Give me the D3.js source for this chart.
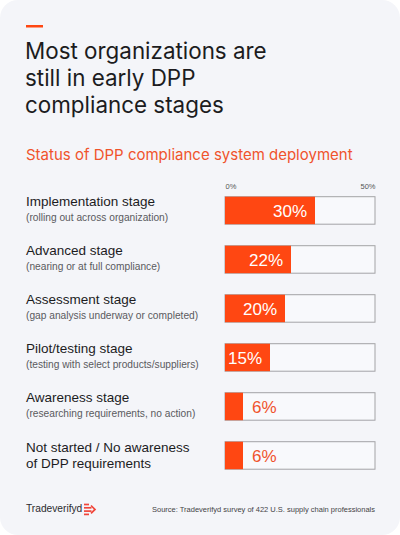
<!DOCTYPE html>
<html>
<head>
<meta charset="utf-8">
<script src="https://cdn.jsdelivr.net/npm/d3@7"></script>
<style>
  html, body { margin: 0; padding: 0; background: #ffffff; }
  svg { display: block; }
  text { font-family: "Liberation Sans", Arial, sans-serif; }
  .title, .subtitle { font-family: Inter, "Noto Sans", sans-serif; }
</style>
</head>
<body>
<svg id="chart" width="400" height="535"></svg>
<script>
const titleLines = ["Most organizations are", "still in early DPP", "compliance stages"];
const subtitle = "Status of DPP compliance system deployment";
const categories = [
  "Implementation stage",
  "Advanced stage",
  "Assessment stage",
  "Pilot/testing stage",
  "Awareness stage",
  "Not started / No awareness of DPP requirements"
];
const mainLabels = [
  ["Implementation stage"],
  ["Advanced stage"],
  ["Assessment stage"],
  ["Pilot/testing stage"],
  ["Awareness stage"],
  ["Not started / No awareness", "of DPP requirements"]
];
const subLabels = [
  "(rolling out across organization)",
  "(nearing or at full compliance)",
  "(gap analysis underway or completed)",
  "(testing with select products/suppliers)",
  "(researching requirements, no action)",
  ""
];
const values = [30, 22, 20, 15, 6, 6];
const tickValues = [0, 50];
const brand = "Tradeverifyd";
const source = "Source: Tradeverifyd survey of 422 U.S. supply chain professionals";

const ORANGE = "#ff4712";
const svg = d3.select("#chart");

// card background
svg.append("rect").attr("x", 0).attr("y", 0).attr("width", 400).attr("height", 535)
  .attr("rx", 18).attr("fill", "#f4f5f9");

// accent dash
svg.append("rect").attr("x", 26).attr("y", 25).attr("width", 17).attr("height", 2.5).attr("fill", ORANGE);

// title
svg.append("g").selectAll("text").data(titleLines).join("text")
  .attr("class", "title")
  .attr("x", 25).attr("y", (d, i) => 59 + i * 27)
  .attr("font-size", 22.4).attr("fill", "#1c1c1e").attr("font-weight", 400)
  .text(d => d);

// subtitle
svg.append("text").attr("class", "subtitle").attr("x", 26).attr("y", 160)
  .attr("font-size", 15).attr("fill", "#f0532c").text(subtitle);

// scales
const x = d3.scaleLinear().domain([0, 50]).range([225, 375]);
const y = d3.scaleBand().domain(categories).range([196.7, 469.2]).paddingInner(0.439).paddingOuter(0);

// axis
const axis = svg.append("g").attr("transform", "translate(0,189)")
  .call(d3.axisTop(x).tickValues(tickValues).tickSize(0).tickPadding(0).tickFormat(d => d + "%"));
axis.select(".domain").remove();
axis.selectAll("text")
  .attr("font-family", "'Liberation Sans', Arial, sans-serif")
  .attr("font-size", 7.5).attr("fill", "#555").attr("dy", 0)
  .attr("text-anchor", (d, i) => i === 0 ? "start" : "end");

// rows
const rows = svg.append("g").selectAll("g").data(categories).join("g")
  .attr("transform", d => `translate(0,${y(d)})`);

rows.append("rect")
  .attr("x", x(0)).attr("y", 0)
  .attr("width", x(50) - x(0)).attr("height", y.bandwidth())
  .attr("fill", "#f8f9fc").attr("stroke", "#a3a3a6").attr("stroke-width", 1);

rows.append("rect")
  .attr("x", x(0)).attr("y", 0)
  .attr("width", (d, i) => x(values[i]) - x(0)).attr("height", y.bandwidth())
  .attr("fill", ORANGE);

rows.append("text")
  .attr("x", (d, i) => values[i] >= 10 ? x(values[i]) - 8 : x(values[i]) + 9)
  .attr("y", y.bandwidth() / 2 + 6.2)
  .attr("text-anchor", (d, i) => values[i] >= 10 ? "end" : "start")
  .attr("font-size", 17)
  .attr("fill", (d, i) => values[i] >= 10 ? "#ffffff" : "#f0532c")
  .text((d, i) => values[i] + "%");

// left labels
rows.each(function(d, i) {
  const g = d3.select(this);
  const lines = mainLabels[i];
  const base = lines.length > 1 ? 10 : 9.5;
  lines.forEach((l, j) => {
    g.append("text").attr("x", 26).attr("y", base + j * 16.6)
      .attr("font-size", 13.5).attr("fill", "#1c1c1e").text(l);
  });
  if (subLabels[i]) {
    g.append("text").attr("x", 26).attr("y", 24)
      .attr("font-size", 10.2).attr("fill", "#5a5a5e").text(subLabels[i]);
  }
});

// footer
svg.append("text").attr("x", 26).attr("y", 512)
  .attr("font-size", 10.2).attr("fill", "#2b2b2e").text(brand);

const logo = svg.append("g").attr("transform", "translate(84,503.5)").attr("stroke", "#f0453a")
  .attr("stroke-width", 1.7).attr("stroke-linecap", "butt");
[[0, 1, 5], [0, 4.3, 7.5], [0, 7.6, 7.5], [0, 10.9, 5]].forEach(([x0, yy, len]) => {
  logo.append("line").attr("x1", x0).attr("x2", x0 + len).attr("y1", yy).attr("y2", yy);
});
logo.append("path").attr("d", "M7,2 L11,5.95 L7,9.9").attr("fill", "none");

svg.append("text").attr("x", 375).attr("y", 512).attr("text-anchor", "end")
  .attr("font-size", 7.5).attr("fill", "#444447").text(source);
</script>
</body>
</html>
